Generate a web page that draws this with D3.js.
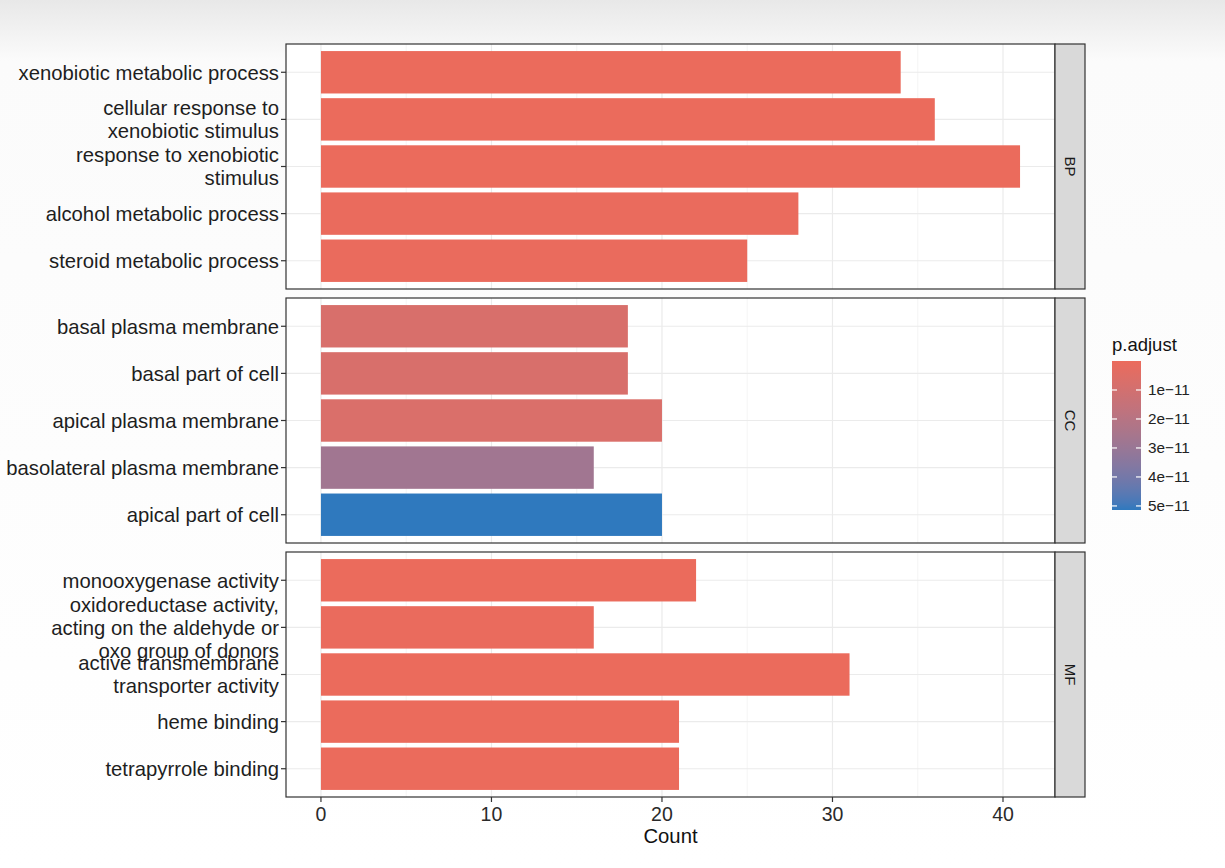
<!DOCTYPE html>
<html><head><meta charset="utf-8">
<script src="https://cdn.jsdelivr.net/npm/d3@7/dist/d3.min.js"></script>
<style>
html,body{margin:0;padding:0;background:#fff;}
svg{display:block;font-family:"Liberation Sans",Arial,sans-serif;}
</style></head><body>
<svg id="chart" width="1225" height="868"></svg>
<script>
// ---- data ----
const facets = ["BP", "CC", "MF"];
const bpTerms = ["xenobiotic metabolic process", "cellular response to\nxenobiotic stimulus", "response to xenobiotic\nstimulus", "alcohol metabolic process", "steroid metabolic process"];
const bpCounts = [34, 36, 41, 28, 25];
const bpPadj = [2e-13, 2e-13, 1e-14, 3e-13, 3e-13];
const ccTerms = ["basal plasma membrane", "basal part of cell", "apical plasma membrane", "basolateral plasma membrane", "apical part of cell"];
const ccCounts = [18, 18, 20, 16, 20];
const ccPadj = [0.75e-11, 0.75e-11, 0.7e-11, 2.75e-11, 5.14e-11];
const mfTerms = ["monooxygenase activity", "oxidoreductase activity,\nacting on the aldehyde or\noxo group of donors", "active transmembrane\ntransporter activity", "heme binding", "tetrapyrrole binding"];
const mfCounts = [22, 16, 31, 21, 21];
const mfPadj = [1e-13, 3e-13, 1e-13, 2e-13, 2e-13];
const xTicks = [0, 10, 20, 30, 40];
const xMinor = [5, 15, 25, 35];
const legendTicks = [1e-11, 2e-11, 3e-11, 4e-11, 5e-11];
const legendLabels = ["1e\u221211", "2e\u221211", "3e\u221211", "4e\u221211", "5e\u221211"];

const panels = [
  {name: facets[0], terms: bpTerms, counts: bpCounts, padj: bpPadj},
  {name: facets[1], terms: ccTerms, counts: ccCounts, padj: ccPadj},
  {name: facets[2], terms: mfTerms, counts: mfCounts, padj: mfPadj}
];

const svg = d3.select("#chart");
const defs = svg.append("defs");
const bg = defs.append("linearGradient").attr("id","bg").attr("x1",0).attr("x2",0).attr("y1",0).attr("y2",1);
bg.append("stop").attr("offset","0").attr("stop-color","#e8e8e8");
bg.append("stop").attr("offset","0.07").attr("stop-color","#fbfbfb");
bg.append("stop").attr("offset","1").attr("stop-color","#ffffff");
svg.append("rect").attr("width",1225).attr("height",868).attr("fill","url(#bg)");

const allPadj = bpPadj.concat(ccPadj, mfPadj);
const pMin = 0, pMax = d3.max(allPadj);
const lowCol = "#eb6b5c", highCol = "#2f79be";
const color = d3.scaleLinear().domain([pMin, pMax]).range([lowCol, highCol]).interpolate(d3.interpolateLab);

const px0 = 286, px1 = 1055;
const x = d3.scaleLinear().domain([-2.05, 43.05]).range([px0, px1]);
const panelTops = [44, 298, 552];
const panelH = 245;
const stripW = 30;
const labelSize = 20.3;

panels.forEach((p, i) => {
  const top = panelTops[i];
  const g = svg.append("g");
  const yc = d3.scalePoint().domain(p.terms).range([top, top + panelH]).padding(0.6);
  const step = yc.step();
  g.append("rect").attr("x", px0).attr("y", top).attr("width", px1 - px0).attr("height", panelH).attr("fill", "#fff");
  g.selectAll(".minor").data(xMinor).join("line")
    .attr("x1", d => x(d)).attr("x2", d => x(d)).attr("y1", top).attr("y2", top + panelH)
    .attr("stroke", "#f2f2f2").attr("stroke-width", 0.8);
  g.selectAll(".major").data(xTicks).join("line")
    .attr("x1", d => x(d)).attr("x2", d => x(d)).attr("y1", top).attr("y2", top + panelH)
    .attr("stroke", "#ebebeb").attr("stroke-width", 1.2);
  g.selectAll(".hmajor").data(p.terms).join("line")
    .attr("x1", px0).attr("x2", px1).attr("y1", d => yc(d)).attr("y2", d => yc(d))
    .attr("stroke", "#ebebeb").attr("stroke-width", 1.2);
  g.selectAll(".bar").data(p.terms).join("rect")
    .attr("x", x(0)).attr("y", d => yc(d) - step * 0.45)
    .attr("width", (d, j) => x(p.counts[j]) - x(0)).attr("height", step * 0.9)
    .attr("fill", (d, j) => color(p.padj[j]));
  g.append("rect").attr("x", px0).attr("y", top).attr("width", px1 - px0).attr("height", panelH)
    .attr("fill", "none").attr("stroke", "#333").attr("stroke-width", 1.2);
  g.append("rect").attr("x", px1).attr("y", top).attr("width", stripW).attr("height", panelH)
    .attr("fill", "#d9d9d9").attr("stroke", "#333").attr("stroke-width", 1.2);
  g.append("text").attr("transform", `translate(${px1 + stripW / 2},${top + panelH / 2}) rotate(90)`)
    .attr("text-anchor", "middle").attr("dy", "0.35em").attr("font-size", 15).attr("fill", "#1a1a1a").text(p.name);
  g.selectAll(".tick").data(p.terms).join("line")
    .attr("x1", px0 - 5).attr("x2", px0).attr("y1", d => yc(d)).attr("y2", d => yc(d))
    .attr("stroke", "#333").attr("stroke-width", 1.2);
  p.terms.forEach(t => {
    const lines = t.split("\n");
    const lh = 23;
    const txt = g.append("text").attr("text-anchor", "end").attr("font-size", labelSize).attr("fill", "#1e1e1e");
    lines.forEach((ln, k) => {
      txt.append("tspan").attr("x", px0 - 7)
        .attr("y", yc(t) + (k - (lines.length - 1) / 2) * lh).attr("dy", "0.36em").text(ln);
    });
  });
});

const bottom = panelTops[2] + panelH;
const xa = svg.append("g");
xa.selectAll("line").data(xTicks).join("line")
  .attr("x1", d => x(d)).attr("x2", d => x(d)).attr("y1", bottom).attr("y2", bottom + 5)
  .attr("stroke", "#333").attr("stroke-width", 1.2);
xa.selectAll("text").data(xTicks).join("text")
  .attr("x", d => x(d)).attr("y", 814).attr("dy", "0.36em")
  .attr("text-anchor", "middle").attr("font-size", 19.5).attr("fill", "#2a2a2a").text(d => d);
svg.append("text").attr("x", (px0 + px1) / 2).attr("y", 836).attr("dy", "0.36em")
  .attr("text-anchor", "middle").attr("font-size", 20.3).attr("fill", "#111").text("Count");

const lx = 1112, ly0 = 361, ly1 = 510, lw = 29;
svg.append("text").attr("x", lx).attr("y", 344).attr("dy", "0.36em").attr("font-size", 18.5).attr("fill", "#111").text("p.adjust");
const lg = defs.append("linearGradient").attr("id", "lg").attr("x1", 0).attr("x2", 0).attr("y1", 0).attr("y2", 1);
d3.range(0, 1.0001, 0.05).forEach(t => {
  lg.append("stop").attr("offset", t).attr("stop-color", color(pMin + t * (pMax - pMin)));
});
const ly = d3.scaleLinear().domain([pMin, pMax]).range([ly0, ly1]);
svg.append("rect").attr("x", lx).attr("y", ly0).attr("width", lw).attr("height", ly1 - ly0).attr("fill", "url(#lg)");
legendTicks.forEach((v, k) => {
  svg.append("line").attr("x1", lx).attr("x2", lx + 5).attr("y1", ly(v)).attr("y2", ly(v)).attr("stroke", "#fff").attr("stroke-width", 1.2);
  svg.append("line").attr("x1", lx + lw - 5).attr("x2", lx + lw).attr("y1", ly(v)).attr("y2", ly(v)).attr("stroke", "#fff").attr("stroke-width", 1.2);
  svg.append("text").attr("x", lx + lw + 7).attr("y", ly(v)).attr("dy", "0.36em").attr("font-size", 15.3).attr("fill", "#222").text(legendLabels[k]);
});
</script></body></html>
